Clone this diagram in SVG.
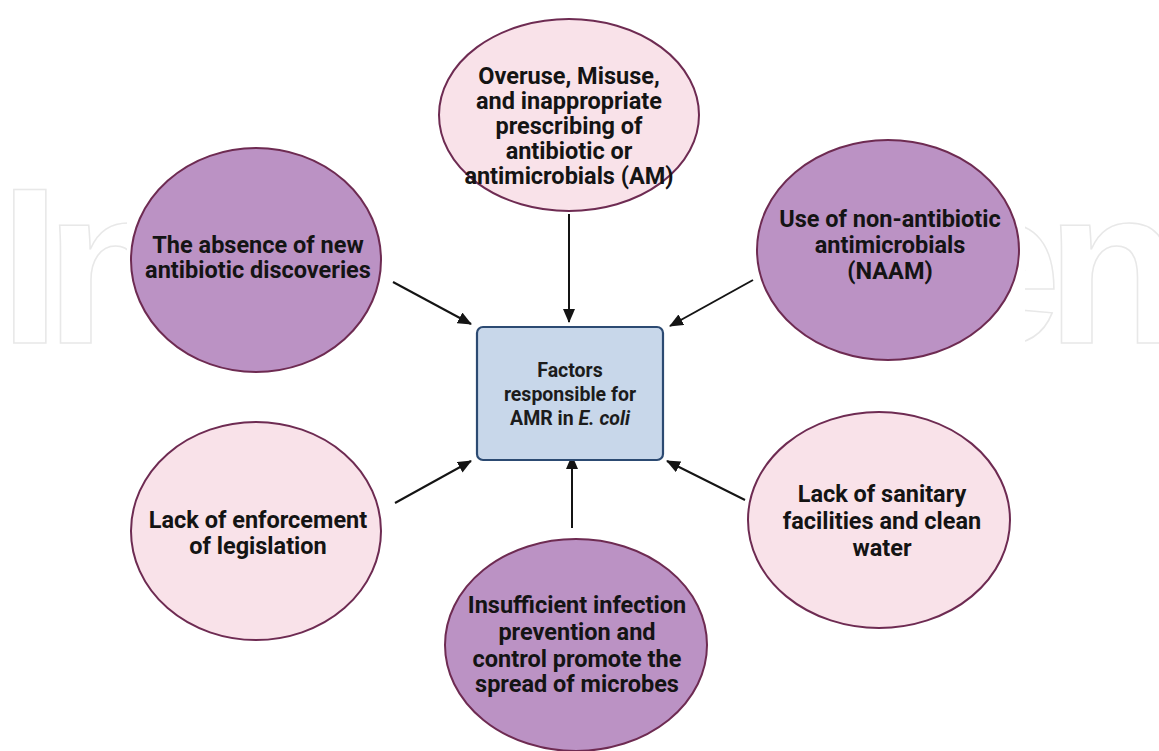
<svg xmlns="http://www.w3.org/2000/svg" width="1159" height="751" viewBox="0 0 1159 751">
  <style>
    .pink { fill: #f9e2e9; stroke: #6e2b52; stroke-width: 2; }
    .purple { fill: #bb92c4; stroke: #6e2b52; stroke-width: 2; }
    .lbl { font-family: Roboto, "Liberation Sans", sans-serif; font-weight: bold; font-size: 23.5px; fill: #141414; text-anchor: middle; }
    .ctr { font-family: Roboto, "Liberation Sans", sans-serif; font-weight: bold; font-size: 19.5px; fill: #1c1c1c; text-anchor: middle; }
    .wm { font-family: "Liberation Sans", Arial, sans-serif; font-weight: bold; font-size: 222px; fill: none; stroke: #e8e8e8; stroke-width: 1.5; }
    .conn line { stroke: #141414; stroke-width: 2; }
  </style>
  <defs>
    <marker id="ah" viewBox="0 0 14 12" refX="13" refY="6" markerWidth="14" markerHeight="12" markerUnits="userSpaceOnUse" orient="auto">
      <path d="M0,0 L14,6 L0,12 Z" fill="#141414"/>
    </marker>
    <clipPath id="wmclip">
      <rect x="0" y="0" width="127" height="751"/>
      <rect x="1025" y="0" width="134" height="751"/>
    </clipPath>
  </defs>
  <rect width="1159" height="751" fill="#ffffff"/>
  <g id="watermark" clip-path="url(#wmclip)">
    <text class="wm" x="-1 45" y="343">In</text>
    <text class="wm" x="938 1046" y="343">en</text>
  </g>

  <g class="conn" id="connectors">
    <line x1="569" y1="214" x2="569" y2="322" marker-end="url(#ah)"/>
    <line x1="393" y1="282" x2="471" y2="324" marker-end="url(#ah)"/>
    <line x1="753" y1="280" x2="670" y2="326" marker-end="url(#ah)"/>
    <line x1="395" y1="503" x2="471" y2="461" marker-end="url(#ah)"/>
    <line x1="572" y1="528" x2="572" y2="456" marker-end="url(#ah)"/>
    <line x1="745" y1="500" x2="667" y2="461" marker-end="url(#ah)"/>
  </g>

  <g id="center">
    <rect x="477" y="327" width="186" height="133" rx="6" fill="#c8d7ea" stroke="#2c4a72" stroke-width="2.2"/>
    <text class="ctr" x="570" y="377">Factors</text>
    <text class="ctr" x="570" y="401">responsible for</text>
    <text class="ctr" x="570" y="425">AMR in <tspan font-style="italic">E. coli</tspan></text>
  </g>

  <g id="n-top">
    <ellipse class="pink" cx="569" cy="115" rx="130" ry="96"/>
    <text class="lbl" x="569" y="84">Overuse, Misuse,</text>
    <text class="lbl" x="569" y="109">and inappropriate</text>
    <text class="lbl" x="569" y="134">prescribing of</text>
    <text class="lbl" x="569" y="159">antibiotic or</text>
    <text class="lbl" x="569" y="184">antimicrobials (AM)</text>
  </g>

  <g id="n-topleft">
    <ellipse class="purple" cx="256" cy="260" rx="125" ry="112"/>
    <text class="lbl" x="258" y="253">The absence of new</text>
    <text class="lbl" x="258" y="278">antibiotic discoveries</text>
  </g>

  <g id="n-topright">
    <ellipse class="purple" cx="888" cy="250" rx="131" ry="110"/>
    <text class="lbl" x="890" y="227">Use of non-antibiotic</text>
    <text class="lbl" x="890" y="253">antimicrobials</text>
    <text class="lbl" x="890" y="279">(NAAM)</text>
  </g>

  <g id="n-bottomleft">
    <ellipse class="pink" cx="256" cy="531" rx="125" ry="109"/>
    <text class="lbl" x="258" y="528">Lack of enforcement</text>
    <text class="lbl" x="258" y="554">of legislation</text>
  </g>

  <g id="n-bottomright">
    <ellipse class="pink" cx="879" cy="520" rx="131" ry="108"/>
    <text class="lbl" x="882" y="502">Lack of sanitary</text>
    <text class="lbl" x="882" y="529">facilities and clean</text>
    <text class="lbl" x="882" y="556">water</text>
  </g>

  <g id="n-bottom">
    <ellipse class="purple" cx="576" cy="645" rx="131" ry="106"/>
    <text class="lbl" x="577" y="613">Insufficient infection</text>
    <text class="lbl" x="577" y="640">prevention and</text>
    <text class="lbl" x="577" y="667">control promote the</text>
    <text class="lbl" x="577" y="692">spread of microbes</text>
  </g>
</svg>
